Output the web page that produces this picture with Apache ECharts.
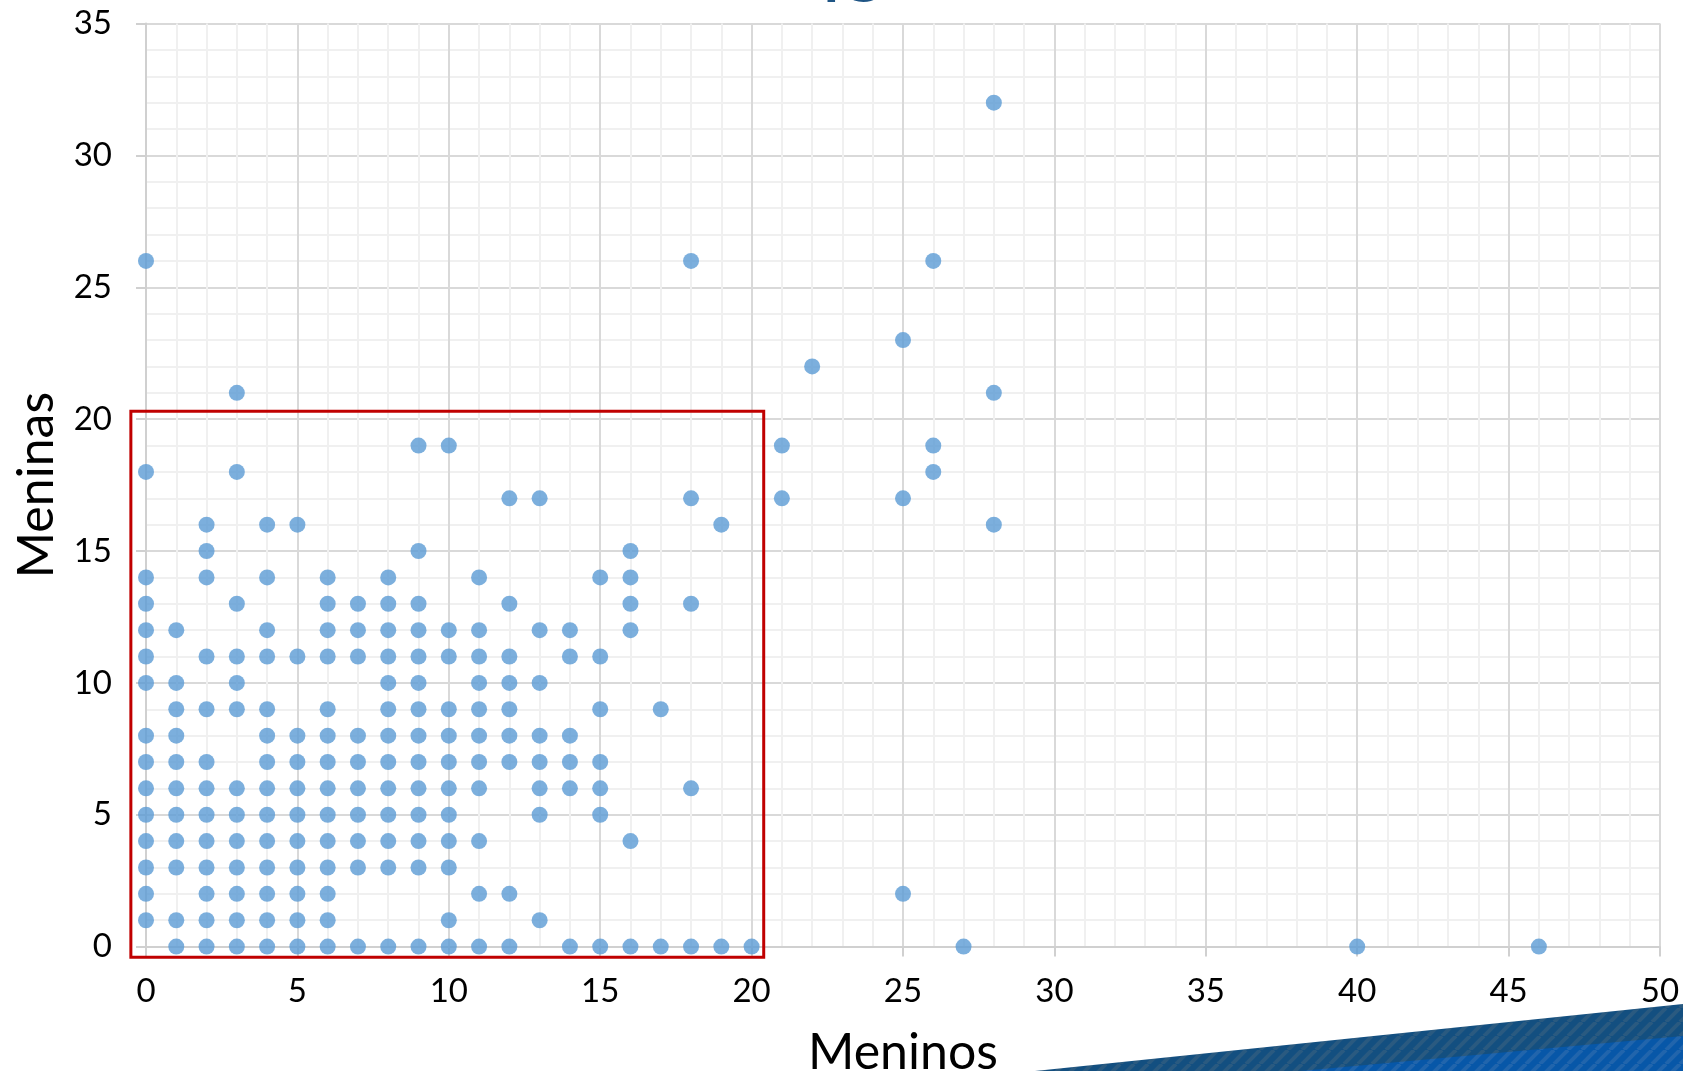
<!DOCTYPE html>
<html>
<head>
<meta charset="utf-8">
<script src="https://cdn.jsdelivr.net/npm/echarts@6/dist/echarts.min.js"></script>
<style>
html,body{margin:0;padding:0;background:#fff;}
#chart{width:1683px;height:1071px;}
</style>
</head>
<body>
<div id="chart"></div>
<script>
// Meninas (y) levels and the Meninos (x) values that appear on each level
const meninasLevels = [32, 26, 23, 22, 21, 19, 18, 17, 16, 15, 14, 13, 12, 11, 10, 9, 8, 7, 6, 5, 4, 3, 2, 1, 0];
const meninosByLevel = [
  [28],
  [0, 18, 26],
  [25],
  [22],
  [3, 28],
  [9, 10, 21, 26],
  [0, 3, 26],
  [12, 13, 18, 21, 25],
  [2, 4, 5, 19, 28],
  [2, 9, 16],
  [0, 2, 4, 6, 8, 11, 15, 16],
  [0, 3, 6, 7, 8, 9, 12, 16, 18],
  [0, 1, 4, 6, 7, 8, 9, 10, 11, 13, 14, 16],
  [0, 2, 3, 4, 5, 6, 7, 8, 9, 10, 11, 12, 14, 15],
  [0, 1, 3, 8, 9, 11, 12, 13],
  [1, 2, 3, 4, 6, 8, 9, 10, 11, 12, 15, 17],
  [0, 1, 4, 5, 6, 7, 8, 9, 10, 11, 12, 13, 14],
  [0, 1, 2, 4, 5, 6, 7, 8, 9, 10, 11, 12, 13, 14, 15],
  [0, 1, 2, 3, 4, 5, 6, 7, 8, 9, 10, 11, 13, 14, 15, 18],
  [0, 1, 2, 3, 4, 5, 6, 7, 8, 9, 10, 13, 15],
  [0, 1, 2, 3, 4, 5, 6, 7, 8, 9, 10, 11, 16],
  [0, 1, 2, 3, 4, 5, 6, 7, 8, 9, 10],
  [0, 2, 3, 4, 5, 6, 11, 12, 25],
  [0, 1, 2, 3, 4, 5, 6, 10, 13],
  [1, 2, 3, 4, 5, 6, 7, 8, 9, 10, 11, 12, 14, 15, 16, 17, 18, 19, 20, 27, 40, 46]
];
const xTicks = [0, 5, 10, 15, 20, 25, 30, 35, 40, 45, 50];
const yTicks = [0, 5, 10, 15, 20, 25, 30, 35];
// highlighted region (data units)
const boxFrom = [-0.5, -0.4];
const boxTo = [20.4, 20.3];

const points = [];
meninasLevels.forEach((y, i) => meninosByLevel[i].forEach(x => points.push([x, y])));

function stripes(base, stripe) {
  const c = document.createElement('canvas');
  c.width = 14; c.height = 14;
  const g = c.getContext('2d');
  g.fillStyle = base; g.fillRect(0, 0, 14, 14);
  g.strokeStyle = stripe; g.lineWidth = 4;
  for (let k = -14; k <= 28; k += 14) {
    g.beginPath(); g.moveTo(k, 14); g.lineTo(k + 14, 0); g.stroke();
  }
  return { image: c, repeat: 'repeat' };
}

const FONT = 'Lato, "Open Sans", sans-serif';
const chart = echarts.init(document.getElementById('chart'));
chart.setOption({
  animation: false,
  backgroundColor: '#ffffff',
  grid: { left: 146, right: 23, top: 23.6, bottom: 124.4, containLabel: false, outerBoundsMode: 'none' },
  xAxis: {
    type: 'value', min: 0, max: 50, interval: 5,
    name: 'Meninos', nameLocation: 'middle', nameGap: 81,
    nameTextStyle: { fontFamily: FONT, fontSize: 50, color: '#000', lineHeight: 50 },
    axisLine: { show: true, onZero: false, lineStyle: { color: '#d0d0d0', width: 2 } },
    axisTick: { show: true, length: 10, lineStyle: { color: '#d0d0d0', width: 2 } },
    axisLabel: { margin: 28, fontFamily: FONT, fontSize: 33, color: '#000', lineHeight: 33,
      formatter: v => xTicks.includes(v) ? String(v) : '' },
    splitLine: { show: true, lineStyle: { color: '#d9d9d9', width: 2 } },
    minorTick: { show: false, splitNumber: 5 },
    minorSplitLine: { show: true, lineStyle: { color: '#f0f0f0', width: 2 } }
  },
  yAxis: {
    type: 'value', min: 0, max: 35, interval: 5,
    name: 'Meninas', nameLocation: 'middle', nameGap: 84, nameRotate: 90,
    nameTextStyle: { fontFamily: FONT, fontSize: 50, color: '#000', lineHeight: 50 },
    axisLine: { show: true, onZero: false, lineStyle: { color: '#d0d0d0', width: 2 } },
    axisTick: { show: true, length: 10, lineStyle: { color: '#d0d0d0', width: 2 } },
    axisLabel: { margin: 34, fontFamily: FONT, fontSize: 33, color: '#000',
      formatter: v => yTicks.includes(v) ? String(v) : '' },
    splitLine: { show: true, lineStyle: { color: '#d9d9d9', width: 2 } },
    minorTick: { show: false, splitNumber: 5 },
    minorSplitLine: { show: true, lineStyle: { color: '#f0f0f0', width: 2 } }
  },
  series: [{
    type: 'scatter',
    data: points,
    symbol: 'circle',
    symbolSize: 16,
    clip: false,
    z: 3,
    itemStyle: { color: '#5b9bd5' }
  }],
  graphic: [
    { type: 'text', id: 'titleFrag', left: 823, top: -44, z: 10,
      style: { text: 'IG', font: 'bold 56px ' + FONT, fill: '#1f5585' } },
    { type: 'polygon', z: 5, shape: { points: [[1035, 1071], [1683, 1004], [1683, 1071]] },
      style: { fill: stripes('#134f80', '#2a5a80') } },
    { type: 'polygon', z: 6, shape: { points: [[1300, 1071], [1683, 1036], [1683, 1071]] },
      style: { fill: stripes('#0757a8', '#2165ac') } }
  ]
});

// red highlight box placed through the chart's own scales
const p1 = chart.convertToPixel({ gridIndex: 0 }, boxFrom);
const p2 = chart.convertToPixel({ gridIndex: 0 }, boxTo);
chart.setOption({
  graphic: [{
    type: 'rect', id: 'highlightBox', z: 4,
    shape: { x: Math.min(p1[0], p2[0]), y: Math.min(p1[1], p2[1]),
             width: Math.abs(p2[0] - p1[0]), height: Math.abs(p2[1] - p1[1]) },
    style: { fill: 'none', stroke: '#c00000', lineWidth: 3 }
  }]
});
</script>
</body>
</html>
